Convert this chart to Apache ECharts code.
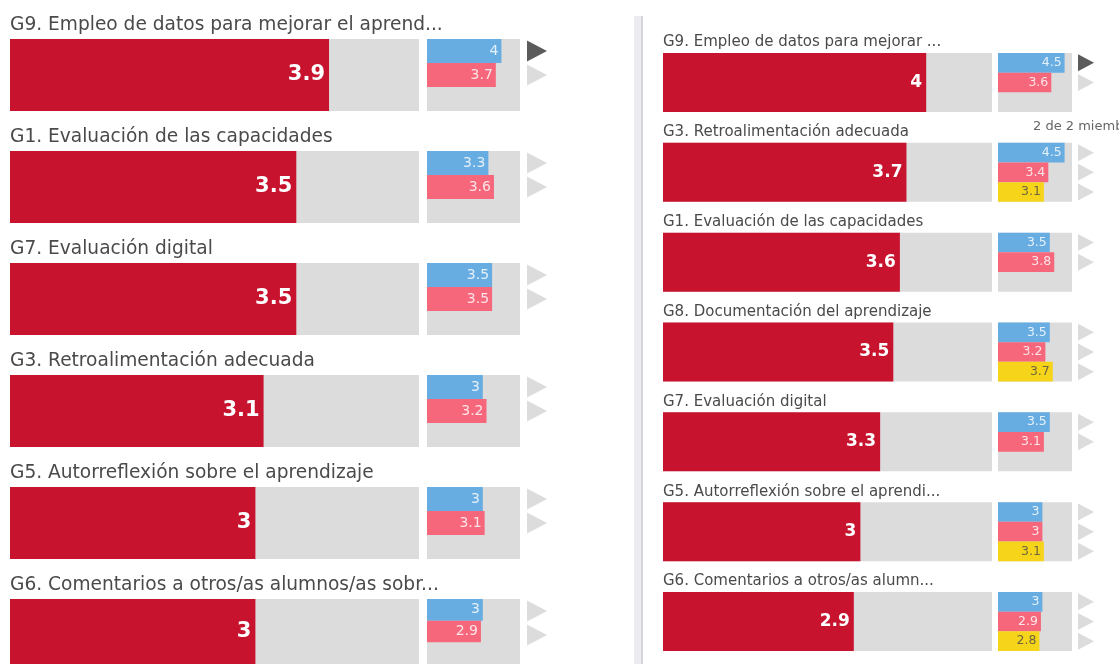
<!DOCTYPE html>
<html>
<head>
<meta charset="utf-8">
<script src="https://cdn.jsdelivr.net/npm/echarts@6/dist/echarts.min.js"></script>
<style>
html,body{margin:0;padding:0;background:#fff;}
#chart{width:1119px;height:664px;}
</style>
</head>
<body>
<div id="chart"></div>
<script>
// ---- data ----
const leftTitles = [
  'G9. Empleo de datos para mejorar el aprend...',
  'G1. Evaluación de las capacidades',
  'G7. Evaluación digital',
  'G3. Retroalimentación adecuada',
  'G5. Autorreflexión sobre el aprendizaje',
  'G6. Comentarios a otros/as alumnos/as sobr...'
];
const leftMain = [3.9, 3.5, 3.5, 3.1, 3, 3];
const leftBlue = [4, 3.3, 3.5, 3, 3, 3];
const leftPink = [3.7, 3.6, 3.5, 3.2, 3.1, 2.9];
const leftYellow = [null, null, null, null, null, null];

const rightTitles = [
  'G9. Empleo de datos para mejorar ...',
  'G3. Retroalimentación adecuada',
  'G1. Evaluación de las capacidades',
  'G8. Documentación del aprendizaje',
  'G7. Evaluación digital',
  'G5. Autorreflexión sobre el aprendi...',
  'G6. Comentarios a otros/as alumn...'
];
const rightMain = [4, 3.7, 3.6, 3.5, 3.3, 3, 2.9];
const rightBlue = [4.5, 4.5, 3.5, 3.5, 3.5, 3, 3];
const rightPink = [3.6, 3.4, 3.8, 3.2, 3.1, 3, 2.9];
const rightYellow = [null, 3.1, null, 3.7, null, 3.1, 2.8];

const scaleMax = 5;
const memberNote = '2 de 2 miembros';

// ---- styles ----
const RED = '#c8132f', BLUE = '#68ade2', PINK = '#f6677c', YELLOW = '#f5d419', BG = '#dcdcdc';
const FONT = '"DejaVu Sans", sans-serif';

const grid = [], xAxis = [], yAxis = [], series = [], graphic = [];

function addPanel(cfg, titles, main, blue, pink, yellow) {
  titles.forEach((t, i) => {
    const top = cfg.top0 + cfg.step * i;
    // title
    graphic.push({
      type: 'text', x: cfg.left, y: top - cfg.titleOff,
      style: { text: t, fill: '#4a4a4a', fontSize: cfg.titleSize, fontFamily: FONT, verticalAlign: 'middle', textAlign: 'left' },
      silent: true
    });
    // big bar grid
    const gi = grid.length;
    grid.push({ left: cfg.left, top: top, width: cfg.bigW, height: cfg.h, show: true, backgroundColor: BG, borderWidth: 0, containLabel: false });
    xAxis.push({ type: 'value', gridIndex: gi, min: 0, max: scaleMax, show: false });
    yAxis.push({ type: 'category', gridIndex: gi, data: ['v'], show: false });
    series.push({
      type: 'bar', xAxisIndex: gi, yAxisIndex: gi, data: [main[i]],
      barWidth: '100%', barCategoryGap: '0%', itemStyle: { color: RED },
      label: { show: true, position: 'insideRight', distance: 4, color: '#fff', fontWeight: 'bold', fontSize: cfg.bigLabel, fontFamily: FONT },
      silent: true, animation: false
    });
    // small bars grid
    const gj = grid.length;
    grid.push({ left: cfg.smallLeft, top: top, width: cfg.smallW, height: cfg.h, show: true, backgroundColor: BG, borderWidth: 0 });
    xAxis.push({ type: 'value', gridIndex: gj, min: 0, max: scaleMax, show: false });
    yAxis.push({ type: 'category', gridIndex: gj, data: ['a', 'b', 'c'], inverse: true, show: false });
    const vals = [blue[i], pink[i], yellow[i]];
    const cols = [BLUE, PINK, YELLOW];
    const lcols = ['rgba(255,255,255,0.82)', 'rgba(255,255,255,0.82)', '#6f6640'];
    series.push({
      type: 'bar', xAxisIndex: gj, yAxisIndex: gj,
      data: vals.map((v, k) => v == null ? '-' : {
        value: v, itemStyle: { color: cols[k] },
        label: { color: lcols[k] }
      }),
      barWidth: '100%', barCategoryGap: '0%',
      label: { show: true, position: 'insideRight', distance: 3, fontSize: cfg.smallLabel, fontFamily: FONT },
      silent: true, animation: false
    });
    // triangles
    const slot = cfg.h / 3;
    vals.forEach((v, k) => {
      if (v == null) return;
      const cy = top + slot * k + slot / 2;
      const x = cfg.triX, w = cfg.triW, hh = cfg.triH / 2;
      graphic.push({
        type: 'polygon', silent: true,
        shape: { points: [[x, cy - hh], [x + w, cy], [x, cy + hh]] },
        style: { fill: (i === 0 && k === 0) ? '#5b5b5b' : '#dcdcdc' }
      });
    });
  });
}

addPanel({ left: 10, top0: 39, step: 112, h: 72, bigW: 409, smallLeft: 427, smallW: 93,
  titleOff: 13.5, titleSize: 18.6, bigLabel: 21, smallLabel: 14, triX: 527, triW: 20, triH: 21 },
  leftTitles, leftMain, leftBlue, leftPink, leftYellow);

addPanel({ left: 663, top0: 53, step: 89.83, h: 59, bigW: 329, smallLeft: 998, smallW: 74,
  titleOff: 10.5, titleSize: 15, bigLabel: 17, smallLabel: 12.5, triX: 1078, triW: 16, triH: 17 },
  rightTitles, rightMain, rightBlue, rightPink, rightYellow);

// separator
graphic.push({ type: 'rect', silent: true, shape: { x: 634, y: 16, width: 7, height: 660 }, style: { fill: '#ececf0' } });
graphic.push({ type: 'rect', silent: true, shape: { x: 641, y: 16, width: 2, height: 660 }, style: { fill: '#d6d6da' } });
// member note
graphic.push({ type: 'text', x: 1033, y: 127, silent: true,
  style: { text: memberNote, fill: '#666', fontSize: 13, fontFamily: FONT, verticalAlign: 'middle', textAlign: 'left' } });

const chart = echarts.init(document.getElementById('chart'), null, { renderer: 'canvas' });
chart.setOption({ animation: false, grid, xAxis, yAxis, series, graphic });
</script>
</body>
</html>
